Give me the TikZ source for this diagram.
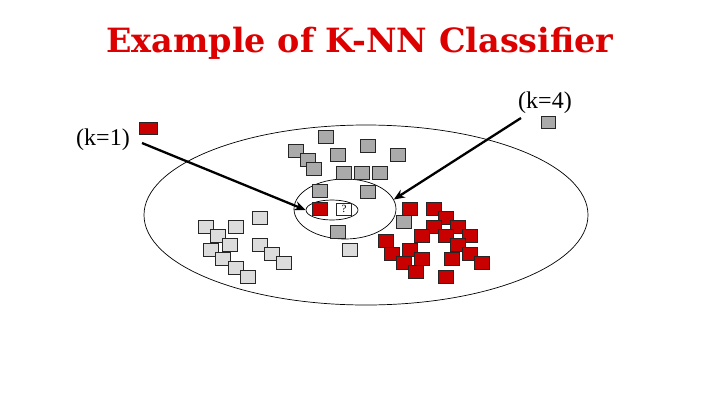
\documentclass[tikz,border=0pt]{standalone}
\usepackage{fontspec}
\setmainfont{Liberation Serif}
\newfontfamily\titlefont{DejaVu Serif}
\usetikzlibrary{arrows.meta,shapes.geometric}
\definecolor{titlered}{RGB}{220,0,0}
\definecolor{lightsq}{RGB}{220,220,220}
\definecolor{darksq}{RGB}{170,170,170}
\definecolor{redsq}{RGB}{200,0,0}
\tikzset{
  sq/.style={draw=black!85, line width=0.7pt, minimum width=15pt, minimum height=13pt, inner sep=0pt},
  lsq/.style={sq, fill=lightsq},
  dsq/.style={sq, fill=darksq},
  rsq/.style={sq, fill=redsq},
  ell/.style={draw=black, line width=0.7pt, ellipse, inner sep=0pt},
  lbl/.style={font=\fontsize{24}{27}\selectfont, inner sep=0pt},
  pointer/.style={line width=2.3pt, -{Stealth[length=11pt,width=9pt]}},
}
\begin{document}
\begin{tikzpicture}[x=1pt,y=-1pt]
\useasboundingbox (0,0) rectangle (720,405);
\node[font=\titlefont\bfseries\fontsize{33.4}{38}\selectfont, text=titlered, anchor=base] (title) at (360,52) {Example of K-NN Classifier};
% ellipses
\node[ell, minimum width=444pt, minimum height=180pt] (big) at (366,215) {};
\node[ell, minimum width=102pt, minimum height=60pt] (e4) at (345,209) {};
\node[ell, minimum width=52pt, minimum height=20pt] (e1) at (332,210) {};
% light grey squares
\foreach \p [count=\i] in {(206,227),(236,227),(260,218),(218,236),(230,245),(211,250),(223,259),(236,268),(248,277),(260,245),(272,254),(284,263),(350,250)}
  \node[lsq] (l\i) at \p {};
% dark grey squares
\foreach \p [count=\i] in {(326,137),(296,151),(308,160),(314,169),(338,155),(368,146),(398,155),(344,173),(362,173),(380,173),(320,191),(368,192),(338,232),(404,222)}
  \node[dsq] (d\i) at \p {};
% red squares
\foreach \p [count=\i] in {(320,209),(410,209),(434,209),(446,218),(434,227),(458,227),(422,236),(446,236),(470,236),(386,241),(458,245),(410,250),(392,254),(470,254),(404,263),(422,259),(452,259),(482,263),(416,272),(446,277)}
  \node[rsq] (r\i) at \p {};
% query
\node[sq, fill=white, minimum width=15pt, minimum height=12pt, font=\fontsize{11}{12}\selectfont] (q) at (344,209) {?};
% legend squares
\node[rsq, minimum width=18pt, minimum height=12pt] (kr) at (148,128) {};
\node[dsq, minimum width=14pt, minimum height=12pt] (kg) at (548,122) {};
% labels
\node[lbl] (k1) at (103,140) {(k=1)};
\node[lbl] (k4) at (545,103) {(k=4)};
\coordinate (a1) at (142,143);
\coordinate (a4) at (521,118);
\draw[pointer] (a1) -- (e1.west);
\draw[pointer] (a4) -- (e4.11);
\end{tikzpicture}
\end{document}
